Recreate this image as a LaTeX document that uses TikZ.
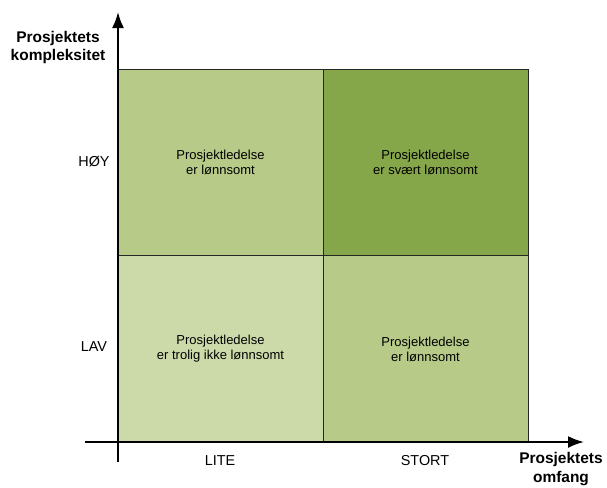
\documentclass[tikz,border=0pt]{standalone}
\usepackage{fontspec}
\setmainfont{Liberation Sans}
\usetikzlibrary{arrows.meta}

\definecolor{lysgronn}{HTML}{CCDAAA}
\definecolor{gronn}{HTML}{B7CA88}
\definecolor{morkgronn}{HTML}{86A64A}

\tikzset{
    celle/.style={draw=black!85, line width=0.6pt, minimum width=153.75pt, minimum height=140pt,
        inner sep=0pt, align=center, font=\fontsize{9.75}{11.25}\selectfont},
    akse/.style={black, line width=1.5pt, -{Latex[length=12pt, width=9pt]}},
    aksetekst/.style={align=center, font=\fontsize{11.6}{14.2}\selectfont\bfseries},
    kategori/.style={font=\fontsize{10.8}{13}\selectfont}
}

\begin{document}
\begin{tikzpicture}[x=0.75pt, y=-0.75pt]
        \useasboundingbox (0,0) rectangle (607,487);

        \node[celle, fill=gronn] (hoylite) at (220.5,162.5) {Prosjektledelse\\er lønnsomt};
        \node[celle, fill=morkgronn] (hoystort) at (425.5,162.5) {Prosjektledelse\\er svært lønnsomt};
        \node[celle, fill=lysgronn] (lavlite) at (220.5,349) {Prosjektledelse\\er trolig ikke lønnsomt};
        \node[celle, fill=gronn] (lavstort) at (425.5,349) {Prosjektledelse\\er lønnsomt};

        \coordinate (ybunn) at (118,462);
        \coordinate (ytopp) at (118,12);
        \coordinate (xstart) at (85,442);
        \coordinate (xslutt) at (584,442);

        \draw[akse] (ybunn) -- (ytopp);
        \draw[akse] (xstart) -- (xslutt);

        \node[kategori] (hoy) at (94,162) {HØY};
        \node[kategori] (lav) at (94,347) {LAV};
        \node[kategori] (lite) at (220,461) {LITE};
        \node[kategori] (stort) at (425,461) {STORT};

        \node[aksetekst] (kompleksitet) at (58,47.5) {Prosjektets\\kompleksitet};
        \node[aksetekst] (omfang) at (561,469) {Prosjektets\\omfang};
    \end{tikzpicture}
\end{document}
